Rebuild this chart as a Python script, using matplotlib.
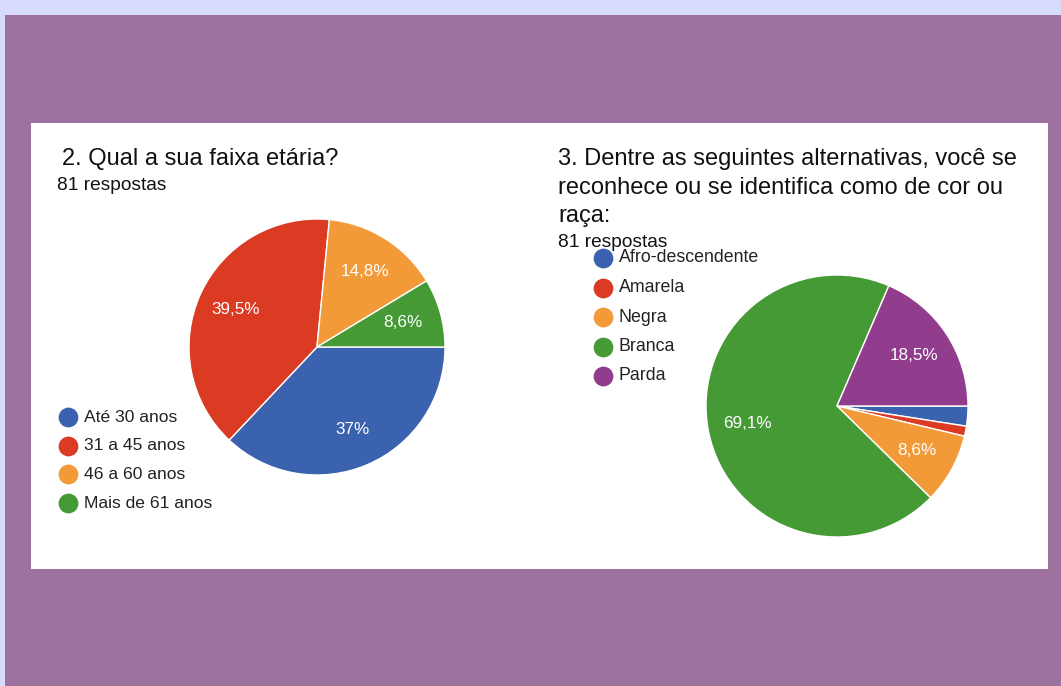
import matplotlib.pyplot as plt
from matplotlib.patches import Rectangle

plt.rcParams['font.family'] = ['Liberation Sans', 'DejaVu Sans']

# dados (contagens de 81 respostas)
idade_rotulos = ['Até 30 anos', '31 a 45 anos', '46 a 60 anos', 'Mais de 61 anos']
idade_contagens = [30, 32, 12, 7]
idade_cores = ['#3A62AE', '#DA3B22', '#F29A38', '#459A36']

raca_rotulos = ['Afro-descendente', 'Amarela', 'Negra', 'Branca', 'Parda']
raca_contagens = [2, 1, 7, 56, 15]
raca_cores = ['#3A62AE', '#DA3B22', '#F29A38', '#459A36', '#923C8E']

W, H = 1061, 686
fig = plt.figure(figsize=(W / 100, H / 100), dpi=100)
fig.patch.set_facecolor('#9E729F')

# fundo, em pixels
bg = fig.add_axes([0, 0, 1, 1])
bg.set_xlim(0, W)
bg.set_ylim(H, 0)
bg.axis('off')
bg.add_patch(Rectangle((0, 0), W, 15, color='#D8DCFC', lw=0))
bg.add_patch(Rectangle((0, 0), 5, H, color='#D8DCFC', lw=0))
bg.add_patch(Rectangle((31, 123), 1017, 446, color='white', lw=0))


def fmt_pct(p):
    if p < 5:
        return ''
    s = '%.1f' % p
    if s.endswith('.0'):
        s = s[:-2]
    return s.replace('.', ',') + '%'


def pizza(cx, cy, r, valores, cores):
    ax = fig.add_axes([(cx - r) / W, (H - cy - r) / H, 2 * r / W, 2 * r / H])
    ax.pie(valores, colors=cores, startangle=0, counterclock=False,
           autopct=fmt_pct, pctdistance=0.7,
           wedgeprops=dict(edgecolor='white', linewidth=1),
           textprops=dict(color='white', fontsize=12.3))
    ax.set_xlim(-1, 1)
    ax.set_ylim(-1, 1)
    return ax


def legenda(x, y0, passo, rotulos, cores, tam):
    for i, (rot, cor) in enumerate(zip(rotulos, cores)):
        y = y0 + i * passo
        bg.scatter([x], [y], s=175, color=cor, zorder=3)
        bg.text(x + 16, y, rot, fontsize=tam, color='#222222', va='center')


pizza(317, 347, 128, idade_contagens, idade_cores)
pizza(837, 406, 131, raca_contagens, raca_cores)

bg.text(62, 165, '2. Qual a sua faixa etária?', fontsize=17, color='#111111')
bg.text(57, 190, '81 respostas', fontsize=13.8, color='#111111')

for i, linha in enumerate(['3. Dentre as seguintes alternativas, você se',
                           'reconhece ou se identifica como de cor ou',
                           'raça:']):
    bg.text(558, 165 + i * 28.5, linha, fontsize=17, color='#111111')
bg.text(558, 247, '81 respostas', fontsize=13.8, color='#111111')

legenda(68, 417, 28.7, idade_rotulos, idade_cores, 12.6)
legenda(603, 258, 29.5, raca_rotulos, raca_cores, 12.8)

fig.savefig('out.png', dpi=100, facecolor=fig.get_facecolor())
